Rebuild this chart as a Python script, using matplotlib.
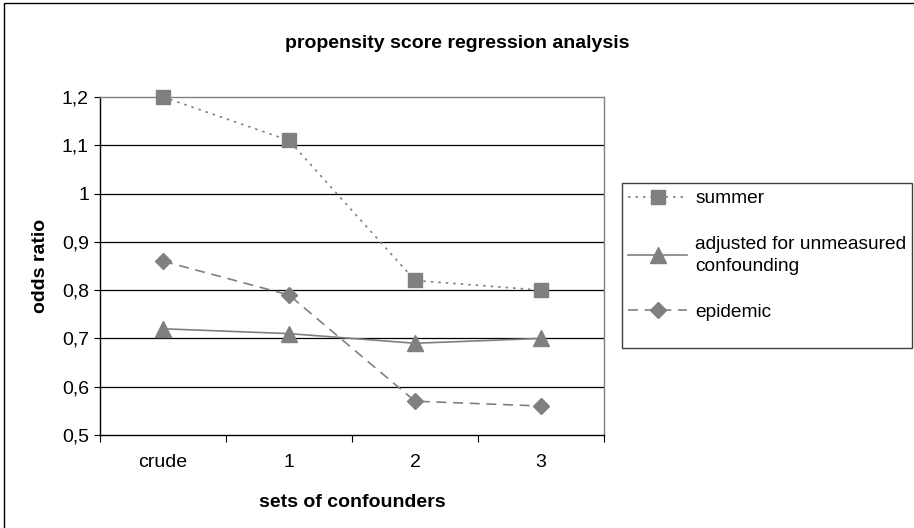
import numpy as np
import matplotlib
matplotlib.use("Agg")
import matplotlib.pyplot as plt
from matplotlib.patches import Rectangle

plt.rcParams["font.family"] = ["Liberation Sans", "DejaVu Sans"]

categories = ["crude", "1", "2", "3"]
summer = [1.20, 1.11, 0.82, 0.80]
adjusted = [0.72, 0.71, 0.69, 0.70]
epidemic = [0.86, 0.79, 0.57, 0.56]
y_ticks = [0.5, 0.6, 0.7, 0.8, 0.9, 1.0, 1.1, 1.2]
y_tick_labels = ["0,5", "0,6", "0,7", "0,8", "0,9", "1", "1,1", "1,2"]

GRAY = "#808080"
W, H = 914, 528
FS = 14


def main():
    fig = plt.figure(figsize=(W / 100, H / 100), dpi=100)
    ax = fig.add_axes([100 / W, 1 - 435 / H, 504 / W, 338 / H])

    x = np.arange(len(categories))
    ax.plot(x, summer, color=GRAY, linestyle=(0, (1.5, 3)), linewidth=1.2,
            marker="s", markersize=10, markerfacecolor=GRAY, markeredgecolor=GRAY,
            label="summer", zorder=3, clip_on=False)
    ax.plot(x, adjusted, color=GRAY, linestyle="-", linewidth=1.2,
            marker="^", markersize=11, markerfacecolor=GRAY, markeredgecolor=GRAY,
            label="adjusted for unmeasured\nconfounding", zorder=3)
    ax.plot(x, epidemic, color=GRAY, linestyle=(0, (6, 4)), linewidth=1.2,
            marker="D", markersize=8, markerfacecolor=GRAY, markeredgecolor=GRAY,
            label="epidemic", zorder=3)

    ax.set_xlim(-0.5, len(categories) - 0.5)
    ax.set_ylim(0.5, 1.2)
    ax.set_yticks(y_ticks)
    ax.set_yticklabels(y_tick_labels, fontsize=FS)
    ax.set_xticks(x)
    ax.set_xticklabels(categories, fontsize=FS)
    ax.set_xticks(np.arange(-0.5, len(categories)), minor=True)
    ax.tick_params(axis="x", which="major", length=0, pad=14)
    ax.tick_params(axis="x", which="minor", length=5, width=0.8, direction="out")
    ax.tick_params(axis="y", length=4, width=0.8, direction="out", pad=4)

    for yv in y_ticks[1:-1]:
        ax.axhline(yv, color="black", linewidth=0.9, zorder=1)

    ax.spines["left"].set_color("black")
    ax.spines["bottom"].set_color("black")
    ax.spines["top"].set_color(GRAY)
    ax.spines["right"].set_color(GRAY)
    for s in ax.spines.values():
        s.set_linewidth(1.0)

    ax.set_xlabel("sets of confounders", fontsize=FS, fontweight="bold", labelpad=16)
    ax.set_ylabel("odds ratio", fontsize=FS, fontweight="bold", labelpad=9)
    fig.text(0.5, 1 - 43 / H, "propensity score regression analysis",
             fontsize=FS, fontweight="bold", ha="center", va="center")

    leg = ax.legend(loc="upper left", bbox_to_anchor=(628 / W, 1 - 190 / H),
                    bbox_transform=fig.transFigure, frameon=False, fontsize=13.8,
                    handlelength=3.1, handletextpad=0.4, labelspacing=1.5,
                    borderpad=0, borderaxespad=0)
    for t in leg.get_texts():
        t.set_linespacing(1.35)

    fig.patches.append(Rectangle((622 / W, 1 - 348 / H), 290 / W, 165 / H,
                                 transform=fig.transFigure, fill=False,
                                 edgecolor="#404040", linewidth=1.0))
    fig.patches.append(Rectangle((4 / W, -0.05), 1.1, 1 - 3 / H + 0.05,
                                 transform=fig.transFigure, fill=False,
                                 edgecolor="black", linewidth=1.0))

    fig.savefig("out.png", dpi=100)
    plt.close(fig)


if __name__ == "__main__":
    main()
